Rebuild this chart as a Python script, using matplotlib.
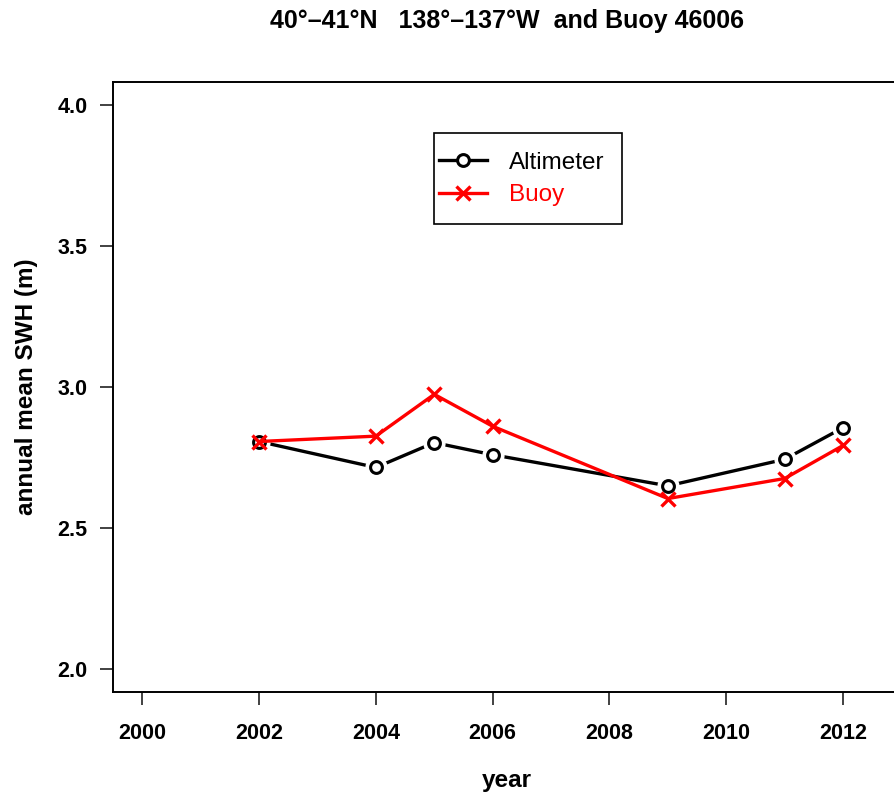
import matplotlib
matplotlib.use("Agg")
import matplotlib.pyplot as plt
from matplotlib.patches import Rectangle

plt.rcParams['font.family'] = ['Liberation Sans', 'DejaVu Sans']

# annual mean significant wave height (m)
years_alt = [2002, 2004, 2005, 2006, 2009, 2011, 2012]
swh_alt = [2.807, 2.715, 2.803, 2.760, 2.650, 2.744, 2.856]
years_buoy = [2002, 2004, 2005, 2006, 2009, 2011, 2012]
swh_buoy = [2.807, 2.826, 2.974, 2.861, 2.605, 2.676, 2.793]

xticks = [2000, 2002, 2004, 2006, 2008, 2010, 2012]
yticks = [2.0, 2.5, 3.0, 3.5, 4.0]

fig = plt.figure(figsize=(8.94, 7.96), dpi=100)
ax = fig.add_axes([113/894, 104/796, 788.5/894, 610/796])

# black line with gaps round the open circles (like R type="b")
ax.plot(years_alt, swh_alt, color='black', lw=2.4, zorder=2)
ax.plot(years_alt, swh_alt, ls='none', marker='o', ms=15, mfc='white',
        mec='white', zorder=3)
alt_line, = ax.plot(years_alt, swh_alt, ls='none', marker='o', ms=8.5,
                    mfc='white', mec='black', mew=2.2, zorder=4)
buoy_line, = ax.plot(years_buoy, swh_buoy, color='red', lw=2.4, marker='x',
                     ms=10, mew=2.4, zorder=5)

ax.set_xlim(1999.5, 2013.0)
ax.set_ylim(1.92, 4.08)
ax.set_xticks(xticks)
ax.set_yticks(yticks)
ax.set_xticklabels([str(v) for v in xticks])
ax.set_yticklabels(['%.1f' % v for v in yticks])
ax.tick_params(axis='both', direction='out', length=9.5, width=1.3,
               color='#333333', labelsize=15.5)
ax.tick_params(axis='x', pad=12.5)
ax.tick_params(axis='y', pad=9)
for lab in ax.get_xticklabels() + ax.get_yticklabels():
    lab.set_fontweight('bold')
for sp in ax.spines.values():
    sp.set_linewidth(1.4)

ax.set_xlabel('year', fontsize=17.5, fontweight='bold', labelpad=18)
ax.set_ylabel('annual mean SWH (m)', fontsize=17.5, fontweight='bold',
              labelpad=14)

fig.text(507/894, 1 - 21/796, '40°\u201341°N   138°\u2013137°W  and Buoy 46006',
         ha='center', va='center', fontsize=18, fontweight='bold')

# legend box
ax.add_patch(Rectangle((434/894, 1 - 224/796), 188/894, 91/796,
                       transform=fig.transFigure, fill=False, ec='black',
                       lw=1.2, zorder=6))
alt_handle, = ax.plot([], [], color='black', lw=2.4, marker='o', ms=8.5,
                      mfc='white', mec='black', mew=2.2)
leg = ax.legend([alt_handle, buoy_line], ['Altimeter', 'Buoy'],
                loc='center left', bbox_to_anchor=(434/894, 1 - 179/796),
                bbox_transform=fig.transFigure, frameon=False, fontsize=17.5,
                handlelength=2.0, handletextpad=0.9, labelspacing=0.42,
                borderpad=0.2, borderaxespad=0)
leg.get_texts()[1].set_color('red')

fig.savefig('out.png', dpi=100)
